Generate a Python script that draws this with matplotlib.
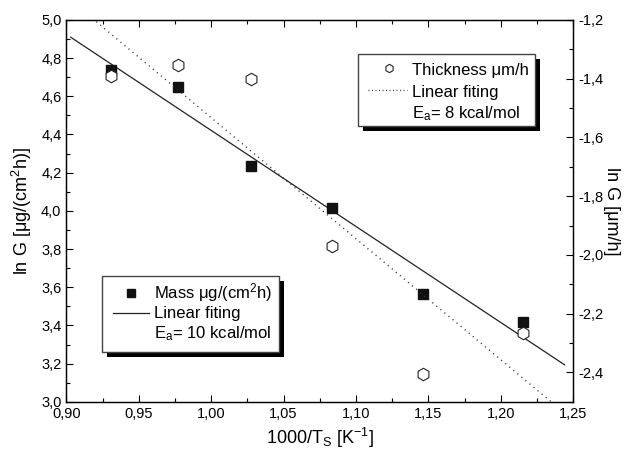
import matplotlib
matplotlib.use("Agg")
import matplotlib.pyplot as plt
from matplotlib.patches import Rectangle
from matplotlib.ticker import MultipleLocator, FuncFormatter

plt.rcParams['font.family'] = ['Liberation Sans', 'DejaVu Sans']
plt.rcParams['mathtext.fontset'] = 'custom'
plt.rcParams['mathtext.rm'] = 'Liberation Sans'
plt.rcParams['mathtext.it'] = 'Liberation Sans:italic'
plt.rcParams['axes.unicode_minus'] = False

# data
inv_T = [0.931, 0.977, 1.0275, 1.0835, 1.146, 1.215]
ln_mass = [4.738, 4.649, 4.236, 4.016, 3.564, 3.420]
ln_thick = [-1.391, -1.355, -1.401, -1.969, -2.406, -2.266]

# fit lines (end points)
mass_fit_x = [0.903, 1.244]
mass_fit_y = [4.909, 3.194]
thick_fit_x = [0.915, 1.236]
thick_fit_y = [-1.183, -2.505]


def comma(fmt):
    return FuncFormatter(lambda v, _: (fmt % v).replace('.', ','))


def legend_box(ax, x0, y0, x1, y1):
    dx, dy = 5 / 506.5, 5 / 382
    ax.add_patch(Rectangle((x0 + dx, y0 - dy), x1 - x0, y1 - y0, transform=ax.transAxes,
                           fc='black', ec='black', lw=0, zorder=20, clip_on=False))
    ax.add_patch(Rectangle((x0, y0), x1 - x0, y1 - y0, transform=ax.transAxes,
                           fc='white', ec='#444444', lw=1, zorder=21, clip_on=False))


fig = plt.figure(figsize=(6.32, 4.51), dpi=100)
ax = fig.add_axes([0.105, 0.109, 0.802, 0.847])
ax2 = ax.twinx()

ax.plot(mass_fit_x, mass_fit_y, color='#222222', lw=0.9, zorder=2)
ax.plot(inv_T, ln_mass, ls='none', marker='s', ms=6.5, mfc='#111111', mec='#111111', zorder=3)

ax2.plot(thick_fit_x, thick_fit_y, color='#333333', lw=1.0, ls=(0, (0.8, 3)), zorder=2)
ax2.plot(inv_T, ln_thick, ls='none', marker='h', ms=9, mfc='white', mec='#222222',
         mew=0.8, zorder=3)

ax.set_xlim(0.90, 1.25)
ax.set_ylim(3.0, 5.0)
ax2.set_ylim(-2.5, -1.2)

ax.xaxis.set_major_locator(MultipleLocator(0.05))
ax.xaxis.set_minor_locator(MultipleLocator(0.025))
ax.yaxis.set_major_locator(MultipleLocator(0.2))
ax.yaxis.set_minor_locator(MultipleLocator(0.1))
ax2.yaxis.set_major_locator(MultipleLocator(0.2))
ax2.yaxis.set_minor_locator(MultipleLocator(0.1))
ax.xaxis.set_major_formatter(comma('%.2f'))
ax.yaxis.set_major_formatter(comma('%.1f'))
ax2.yaxis.set_major_formatter(comma('%.1f'))

ax.tick_params(axis='x', which='both', direction='in', top=True, labelsize=10.5, pad=4)
ax.tick_params(axis='y', which='both', direction='in', left=True, right=False, labelsize=10.5)
ax2.tick_params(axis='y', which='both', direction='in', labelsize=10.5)
for a in (ax, ax2):
    a.tick_params(which='major', length=5, width=0.8)
    a.tick_params(which='minor', length=3, width=0.8)
    for s in a.spines.values():
        s.set_linewidth(0.9)

ax.set_xlabel('1000/T$_\\mathregular{S}$ [K$^\\mathregular{-1}$]', fontsize=13, labelpad=3)
ax.set_ylabel('ln G [μg/(cm$^\\mathregular{2}$h)]', fontsize=13, labelpad=5)
ax2.set_ylabel('ln G [μm/h]', fontsize=13, rotation=270, labelpad=12)

# legend: thickness
legend_box(ax2, 0.576, 0.7225, 0.925, 0.911)
ax2.plot([0.6373], [0.8736], transform=ax2.transAxes, marker='h', ms=6, mfc='white',
         mec='#222222', mew=0.8, zorder=22, clip_on=False)
ax2.plot([0.5953, 0.6718], [0.8168, 0.8168], transform=ax2.transAxes, color='#333333',
         lw=0.9, ls=(0, (0.8, 2)), zorder=22, clip_on=False)
ax2.text(0.6815, 0.856, 'Thickness μm/h', transform=ax2.transAxes, fontsize=12, zorder=23)
ax2.text(0.6815, 0.799, 'Linear fiting', transform=ax2.transAxes, fontsize=12, zorder=23)
ax2.text(0.6815, 0.7427, 'E$_\\mathregular{a}$= 8 kcal/mol', transform=ax2.transAxes,
         fontsize=12, zorder=23)

# legend: mass
legend_box(ax2, 0.0695, 0.1317, 0.4201, 0.3306)
ax2.plot([0.1267], [0.2845], transform=ax2.transAxes, marker='s', ms=5.5, mfc='#111111',
         mec='#111111', zorder=22, clip_on=False)
ax2.plot([0.0912, 0.1635], [0.2322, 0.2322], transform=ax2.transAxes, color='#222222',
         lw=0.9, zorder=22, clip_on=False)
ax2.text(0.1733, 0.2715, 'Mass μg/(cm$^\\mathregular{2}$h)', transform=ax2.transAxes,
         fontsize=12, zorder=23)
ax2.text(0.1733, 0.219, 'Linear fiting', transform=ax2.transAxes, fontsize=12, zorder=23)
ax2.text(0.1733, 0.1667, 'E$_\\mathregular{a}$= 10 kcal/mol', transform=ax2.transAxes,
         fontsize=12, zorder=23)

fig.savefig('out.png', dpi=100)
